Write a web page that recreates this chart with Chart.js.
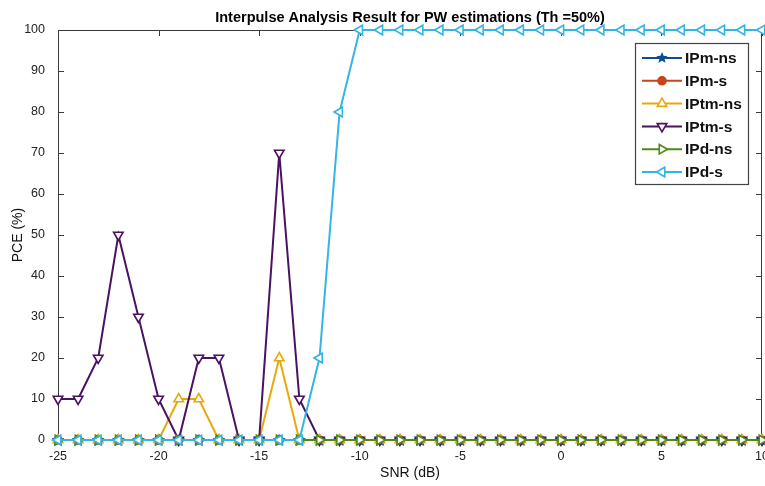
<!DOCTYPE html>
<html>
<head>
<meta charset="utf-8">
<script src="https://cdn.jsdelivr.net/npm/chart.js@4.4.1/dist/chart.umd.min.js"></script>
<style>
html, body { margin: 0; padding: 0; background: #fff; }
#wrap { width: 765px; height: 486px; }
</style>
</head>
<body>
<div id="wrap"><canvas id="pce" width="765" height="486"></canvas></div>
<script>
const snrDb = [-25, -24, -23, -22, -21, -20, -19, -18, -17, -16, -15, -14, -13, -12, -11, -10, -9, -8, -7, -6, -5, -4, -3, -2, -1, 0, 1, 2, 3, 4, 5, 6, 7, 8, 9, 10];
const ipmNs = [0, 0, 0, 0, 0, 0, 0, 0, 0, 0, 0, 0, 0, 0, 0, 0, 0, 0, 0, 0, 0, 0, 0, 0, 0, 0, 0, 0, 0, 0, 0, 0, 0, 0, 0, 0];
const ipmS = [0, 0, 0, 0, 0, 0, 0, 0, 0, 0, 0, 0, 0, 0, 0, 0, 0, 0, 0, 0, 0, 0, 0, 0, 0, 0, 0, 0, 0, 0, 0, 0, 0, 0, 0, 0];
const iptmNs = [0, 0, 0, 0, 0, 0, 10, 10, 0, 0, 0, 20, 0, 0, 0, 0, 0, 0, 0, 0, 0, 0, 0, 0, 0, 0, 0, 0, 0, 0, 0, 0, 0, 0, 0, 0];
const iptmS = [10, 10, 20, 50, 30, 10, 0, 20, 20, 0, 0, 70, 10, 0, 0, 0, 0, 0, 0, 0, 0, 0, 0, 0, 0, 0, 0, 0, 0, 0, 0, 0, 0, 0, 0, 0];
const ipdNs = [0, 0, 0, 0, 0, 0, 0, 0, 0, 0, 0, 0, 0, 0, 0, 0, 0, 0, 0, 0, 0, 0, 0, 0, 0, 0, 0, 0, 0, 0, 0, 0, 0, 0, 0, 0];
const ipdS = [0, 0, 0, 0, 0, 0, 0, 0, 0, 0, 0, 0, 0, 20, 80, 100, 100, 100, 100, 100, 100, 100, 100, 100, 100, 100, 100, 100, 100, 100, 100, 100, 100, 100, 100, 100];

const seriesNames = ["IPm-ns", "IPm-s", "IPtm-ns", "IPtm-s", "IPd-ns", "IPd-s"];
const seriesValues = [ipmNs, ipmS, iptmNs, iptmS, ipdNs, ipdS];
const seriesColors = ["#0d4f8c", "#c9431b", "#e9a90a", "#4b1162", "#4f8a17", "#35b4e6"];
const markerShapes = ["star", "circle", "triangle", "triangle", "triangle", "triangle"];
const markerRotation = [0, 0, 0, 180, 90, 270];

const FONT = "'Liberation Sans', Arial, sans-serif";

function starPath(ctx, x, y, r) {
    ctx.beginPath();
    for (let i = 0; i < 10; i++) {
        const rad = i % 2 === 0 ? r : r * 0.45;
        const a = -Math.PI / 2 + i * Math.PI / 5;
        ctx.lineTo(x + rad * Math.cos(a), y + rad * Math.sin(a));
    }
    ctx.closePath();
}

function starImage(color) {
    const c = document.createElement("canvas");
    c.width = 14; c.height = 14;
    const g = c.getContext("2d");
    starPath(g, 7, 7.5, 6);
    g.fillStyle = color; g.fill();
    g.strokeStyle = color; g.lineWidth = 1; g.stroke();
    return c;
}

function drawMarker(ctx, i, x, y) {
    const color = seriesColors[i];
    ctx.save();
    ctx.strokeStyle = color;
    ctx.lineWidth = 1.6;
    if (markerShapes[i] === "star") {
        starPath(ctx, x, y, 6);
        ctx.fillStyle = color; ctx.fill();
    } else if (markerShapes[i] === "circle") {
        ctx.beginPath(); ctx.arc(x, y, 4, 0, Math.PI * 2);
        ctx.fillStyle = color; ctx.fill(); ctx.stroke();
    } else {
        const r = 5.5, rot = markerRotation[i] * Math.PI / 180;
        ctx.beginPath();
        for (let k = 0; k < 3; k++) {
            const a = rot - Math.PI / 2 + k * 2 * Math.PI / 3;
            ctx.lineTo(x + r * Math.cos(a), y + r * Math.sin(a));
        }
        ctx.closePath();
        ctx.fillStyle = "#fff"; ctx.fill(); ctx.stroke();
    }
    ctx.restore();
}

const frame = {
    id: "frame",
    beforeDatasetsDraw(chart) {
        const { ctx, chartArea: a, scales } = chart;
        ctx.save();
        ctx.strokeStyle = "#3a3a3a";
        ctx.lineWidth = 1;
        ctx.strokeRect(a.left + 0.5, a.top + 0.5, a.right - a.left - 1, a.bottom - a.top - 1);
        ctx.beginPath();
        scales.x.ticks.forEach((t) => {
            const px = Math.round(scales.x.getPixelForValue(t.value)) + 0.5;
            ctx.moveTo(px, a.bottom); ctx.lineTo(px, a.bottom - 6);
            ctx.moveTo(px, a.top); ctx.lineTo(px, a.top + 6);
        });
        scales.y.ticks.forEach((t) => {
            const py = Math.round(scales.y.getPixelForValue(t.value)) + 0.5;
            ctx.moveTo(a.left, py); ctx.lineTo(a.left + 6, py);
            ctx.moveTo(a.right, py); ctx.lineTo(a.right - 6, py);
        });
        ctx.stroke();
        ctx.fillStyle = "#000";
        ctx.font = "bold 14.5px " + FONT;
        ctx.textAlign = "center";
        ctx.textBaseline = "alphabetic";
        ctx.fillText("Interpulse Analysis Result for PW estimations (Th =50%)", 410, 22);
        ctx.restore();
    },
    afterDatasetsDraw(chart) {
        const { ctx } = chart;
        const box = { left: 635, top: 43, width: 113, height: 141 };
        ctx.save();
        ctx.fillStyle = "#fff";
        ctx.fillRect(box.left, box.top, box.width, box.height);
        ctx.strokeStyle = "#444";
        ctx.lineWidth = 1.2;
        ctx.strokeRect(box.left + 0.5, box.top + 0.5, box.width, box.height);
        ctx.font = "bold 15.5px " + FONT;
        ctx.textBaseline = "middle";
        seriesNames.forEach((name, i) => {
            const y = box.top + 15 + i * 22.8;
            ctx.strokeStyle = seriesColors[i];
            ctx.lineWidth = 2;
            ctx.beginPath(); ctx.moveTo(642, y); ctx.lineTo(682, y); ctx.stroke();
            drawMarker(ctx, i, 662, y);
            ctx.fillStyle = "#111";
            ctx.fillText(name, 685, y + 1);
        });
        ctx.restore();
    }
};

const datasets = seriesNames.map((name, i) => ({
    label: name,
    data: snrDb.map((x, k) => ({ x, y: seriesValues[i][k] })),
    borderColor: seriesColors[i],
    backgroundColor: seriesColors[i],
    borderWidth: 2,
    pointStyle: markerShapes[i] === "star" ? starImage(seriesColors[i]) : markerShapes[i],
    pointRotation: markerRotation[i],
    pointRadius: markerShapes[i] === "circle" ? 4 : 5.5,
    pointBorderWidth: 1.6,
    pointBackgroundColor: markerShapes[i] === "circle" ? seriesColors[i] : "#fff",
    tension: 0,
    clip: false,
    order: seriesNames.length - i
}));

new Chart(document.getElementById("pce"), {
    type: "line",
    data: { datasets },
    plugins: [frame],
    options: {
        responsive: false,
        animation: false,
        layout: { autoPadding: false, padding: { top: 30, right: 3, left: 0, bottom: 0 } },
        plugins: { legend: { display: false }, tooltip: { enabled: false } },
        scales: {
            x: {
                type: "linear", min: -25, max: 10,
                grid: { display: false }, border: { display: false },
                ticks: { stepSize: 5, color: "#222", font: { family: FONT, size: 12.5 }, padding: 1, maxRotation: 0 },
                title: { display: true, text: "SNR (dB)", color: "#111", font: { family: FONT, size: 14 }, padding: { top: 2, bottom: 4 } },
                afterFit(scale) {
                    scale.height = 46; scale.paddingRight = 0; scale.paddingLeft = 0;
                    if (scale._margins) { scale._margins.right = 0; scale._margins.left = 0; }
                }
            },
            y: {
                min: 0, max: 100,
                grid: { display: false }, border: { display: false },
                ticks: { stepSize: 10, color: "#222", font: { family: FONT, size: 12.5 }, padding: 5 },
                title: { display: true, text: "PCE (%)", color: "#111", font: { family: FONT, size: 14 }, padding: { top: 10, bottom: 4 } },
                afterFit(scale) { scale.width = 58; scale.paddingTop = 0; scale.paddingBottom = 0; }
            }
        }
    }
});
</script>
</body>
</html>
